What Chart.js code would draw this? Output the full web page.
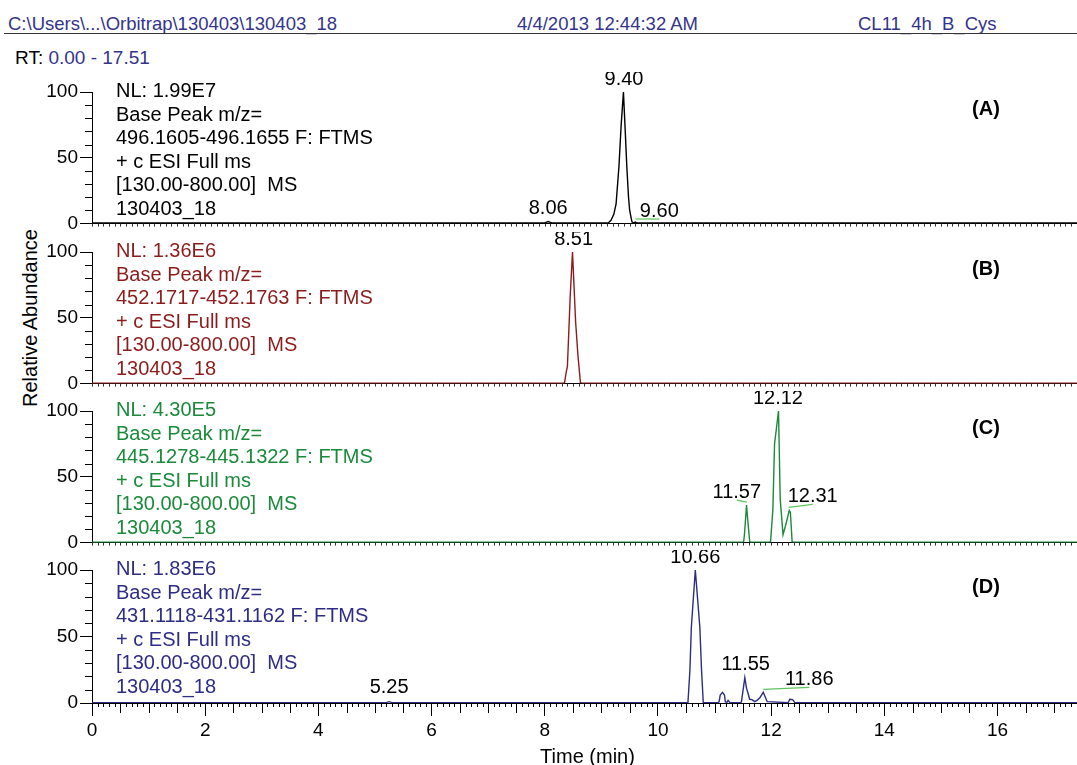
<!DOCTYPE html>
<html>
<head>
<meta charset="utf-8">
<title>Chromatograms</title>
<script src="https://cdn.jsdelivr.net/npm/chart.js@4.4.0/dist/chart.umd.min.js"></script>
<style>
  html, body { margin: 0; padding: 0; background: #fff; overflow: hidden; width: 1077px; height: 765px; }
  body { position: relative; font-family: "Liberation Sans", Arial, Helvetica, sans-serif; }
  .txt { position: absolute; white-space: nowrap; line-height: 1; }
  .hdr { font-size: 18.5px; color: #34348a; top: 15px; }
  .rule { position: absolute; left: 4px; top: 33px; width: 1073px; height: 1px; background: #333; }
  .info { position: absolute; left: 116px; font-size: 20px; line-height: 23.6px; white-space: pre; }
  .tag { position: absolute; width: 60px; left: 956px; text-align: center; font-size: 20px; font-weight: bold; line-height: 1; }
  canvas { position: absolute; left: 0; }
</style>
</head>
<body>
<div class="txt hdr" style="left:8px">C:\Users\...\Orbitrap\130403\130403_18</div>
<div class="txt hdr" style="left:517px">4/4/2013 12:44:32 AM</div>
<div class="txt hdr" style="left:858px">CL11_4h_B_Cys</div>
<div class="rule"></div>
<div class="txt" style="left:15px; top:48px; font-size:19px">RT: <span style="color:#34348a">0.00 - 17.51</span></div>
<div class="txt" style="left:30px; top:318px; font-size:20px; transform:translate(-50%,-50%) rotate(-90deg)">Relative Abundance</div>

<canvas id="cA" width="1100" height="165"></canvas>
<canvas id="cB" width="1100" height="165"></canvas>
<canvas id="cC" width="1100" height="165"></canvas>
<canvas id="cD" width="1100" height="220"></canvas>

<script>
// ---- data (time in min, relative abundance in %) ----
const timeA = [0, 2.0, 4.0, 6.0, 7.98, 8.02, 8.06, 8.10, 8.14, 9.12, 9.17, 9.22, 9.26, 9.31, 9.35, 9.39, 9.42, 9.45, 9.48, 9.50, 9.54, 9.57, 9.60, 9.63, 12.0, 17.51];
const abundA = [0.4, 0.4, 0.4, 0.4, 0.4, 0.9, 1.6, 0.9, 0.4, 0.4, 2.5, 7, 15, 43, 75, 100, 72, 43, 20, 10, 1.3, 0.6, 1.2, 0.4, 0.4, 0.4];

const timeB = [0, 4.0, 8.0, 8.33, 8.35, 8.38, 8.40, 8.45, 8.49, 8.545, 8.585, 8.63, 8.66, 12.0, 17.51];
const abundB = [0.3, 0.3, 0.3, 0.3, 0.8, 9, 13, 67, 100, 47, 22, 0.8, 0.3, 0.3, 0.3];

const timeC = [0, 4.0, 8.0, 11.50, 11.515, 11.53, 11.565, 11.59, 11.62, 11.64, 11.97, 11.99, 12.03, 12.06, 12.13, 12.16, 12.21, 12.27, 12.32, 12.34, 12.37, 12.39, 17.51];
const abundC = [0.3, 0.3, 0.3, 0.3, 1, 7, 28.5, 15.5, 1, 0.3, 0.3, 1, 25, 75, 100, 33, 6, 15.5, 24.5, 23, 1, 0.3, 0.3];

const timeD = [0, 3.0, 5.20, 5.25, 5.30, 8.0, 10.50, 10.53, 10.565, 10.59, 10.66, 10.74, 10.77, 10.80, 10.83,
  11.06, 11.08, 11.10, 11.14, 11.175, 11.19, 11.22, 11.24, 11.27, 11.46, 11.475, 11.50, 11.535, 11.565, 11.59,
  11.62, 11.66, 11.71, 11.75, 11.80, 11.83, 11.86, 11.89, 11.93, 12.30, 12.33, 12.38, 12.42, 17.51];
const abundD = [0.3, 0.3, 0.3, 1.0, 0.3, 0.3, 0.3, 0.5, 25, 57, 100, 57, 25, 0.5, 0.3,
  0.3, 0.8, 6, 8, 6, 0.8, 0.6, 2, 0.5, 0.3, 0.8, 8.5, 19, 11, 7.5,
  2.8, 2.5, 1, 2, 4, 6, 8, 5, 1, 0.3, 2.8, 2.5, 0.3, 0.3];

// labelled peaks: retention time and apex height
const peakTimeA = [8.06, 9.40, 9.60];
const peakAbundA = [1.6, 100, 1.2];
const peakTimeB = [8.51];
const peakAbundB = [100];
const peakTimeC = [11.57, 12.12, 12.31];
const peakAbundC = [28.5, 100, 24.5];
const peakTimeD = [5.25, 10.66, 11.55, 11.86];
const peakAbundD = [1.0, 100, 19, 8];

// trace header texts
const nlValues = ["1.99E7", "1.36E6", "4.30E5", "1.83E6"];
const mzRanges = ["496.1605-496.1655", "452.1717-452.1763", "445.1278-445.1322", "431.1118-431.1162"];
const panelTags = ["(A)", "(B)", "(C)", "(D)"];
const xTickStep = 2;
const yTickStep = 50;

// ---- layout / style ----
const FONT = '"Liberation Sans", Arial, Helvetica, sans-serif';
Chart.defaults.font.family = FONT;
const colors = ["#000000", "#8c1c1c", "#1b8a3b", "#2d2d86"];
const panelTops = [92, 252, 411, 570];
const PLOT_H = 133;
const PAD_TOP = 20;
// label offsets in px from the apex [dx, dy]
const shiftA = [[0, -13], [0, -13], [24, -11]];
const shiftB = [[0, -13]];
const shiftC = [[-10, -13], [0, -13], [24, -14]];
const shiftD = [[0, -14], [0, -13], [0, -13], [46, -13]];

const minorTicks = {
  id: "minorTicks",
  afterDraw(chart, args, opts) {
    const {ctx, chartArea, scales: {x, y}} = chart;
    ctx.save();
    ctx.strokeStyle = "#000";
    ctx.lineWidth = 1;
    ctx.beginPath();
    for (let v = 10; v < 100; v += 10) {
      if (v === 50) continue;
      const py = Math.round(y.getPixelForValue(v)) + 0.5;
      ctx.moveTo(chartArea.left - 7, py);
      ctx.lineTo(chartArea.left, py);
    }
    ctx.stroke();
    ctx.strokeStyle = opts.bottom ? "#000" : "#333";
    ctx.beginPath();
    for (let k = 0; k <= 175; k++) {
      if (opts.bottom && k % 20 === 0) continue;
      const len = opts.bottom ? (k % 5 === 0 ? 10 : 4) : 3;
      const px = Math.round(x.getPixelForValue(k / 10)) + 0.5;
      ctx.moveTo(px, chartArea.bottom);
      ctx.lineTo(px, chartArea.bottom + len);
    }
    ctx.stroke();
    ctx.restore();
  }
};

const peakLabels = {
  id: "peakLabels",
  afterDatasetsDraw(chart, args, opts) {
    const {ctx, scales: {x, y}} = chart;
    ctx.save();
    ctx.font = "20px " + FONT;
    ctx.textAlign = "center";
    ctx.textBaseline = "middle";
    opts.times.forEach((t, i) => {
      const px = x.getPixelForValue(t);
      const py = y.getPixelForValue(opts.values[i]);
      const [dx, dy] = opts.shifts[i];
      const tx = px + dx, ty = py + dy;
      if (dx !== 0) {
        ctx.strokeStyle = "#5ec45e";
        ctx.lineWidth = 1.2;
        ctx.beginPath();
        ctx.moveTo(px, py - 3);
        ctx.lineTo(tx, ty + 8);
        ctx.stroke();
      }
      ctx.fillStyle = "#000";
      ctx.fillText(t.toFixed(2), tx, ty);
    });
    ctx.restore();
  }
};

function makePanel(id, idx, times, abund, peakT, peakV, shifts) {
  const bottom = idx === 3;
  const canvas = document.getElementById(id);
  canvas.style.top = (panelTops[idx] - PAD_TOP) + "px";
  const xHeight = canvas.height - PAD_TOP - PLOT_H;

  // panel text block
  const info = document.createElement("div");
  info.className = "info";
  info.style.top = (panelTops[idx] - 13) + "px";
  info.style.color = colors[idx];
  info.textContent = "NL: " + nlValues[idx] + "\nBase Peak m/z=\n" + mzRanges[idx] +
    " F: FTMS\n+ c ESI Full ms\n[130.00-800.00]  MS\n130403_18";
  document.body.appendChild(info);
  const tag = document.createElement("div");
  tag.className = "tag";
  tag.style.top = (panelTops[idx] + 6) + "px";
  tag.textContent = panelTags[idx];
  document.body.appendChild(tag);

  return new Chart(canvas, {
    type: "line",
    data: {
      datasets: [{
        data: times.map((t, i) => ({x: t, y: abund[i]})),
        borderColor: colors[idx],
        borderWidth: 1.4,
        pointRadius: 0,
        tension: 0,
        fill: false,
      }],
    },
    options: {
      responsive: false,
      animation: false,
      events: [],
      layout: {padding: {top: PAD_TOP, right: 17, left: 0, bottom: 0}},
      plugins: {
        legend: {display: false},
        tooltip: {enabled: false},
        minorTicks: {bottom},
        peakLabels: {times: peakT, values: peakV, shifts},
      },
      scales: {
        x: {
          type: "linear",
          min: 0,
          max: 17.51,
          afterFit: (s) => { s.height = xHeight; },
          ticks: {
            display: bottom,
            stepSize: xTickStep,
            includeBounds: false,
            color: "#000",
            padding: 3,
            font: {size: 19},
            maxRotation: 0,
          },
          grid: {display: bottom, drawOnChartArea: false, tickLength: 13, color: "#000"},
          border: {display: true, color: "#000", width: 1},
          title: {
            display: bottom,
            text: "Time (min)",
            color: "#000",
            font: {size: 20},
            padding: {top: 0, bottom: 1},
          },
        },
        y: {
          min: 0,
          max: 100,
          afterFit: (s) => { s.width = 92; },
          ticks: {stepSize: yTickStep, color: "#000", padding: 2, font: {size: 19}},
          grid: {drawOnChartArea: false, tickLength: 12, color: "#000"},
          border: {display: true, color: "#000", width: 1},
        },
      },
    },
    plugins: [minorTicks, peakLabels],
  });
}

makePanel("cA", 0, timeA, abundA, peakTimeA, peakAbundA, shiftA);
makePanel("cB", 1, timeB, abundB, peakTimeB, peakAbundB, shiftB);
makePanel("cC", 2, timeC, abundC, peakTimeC, peakAbundC, shiftC);
makePanel("cD", 3, timeD, abundD, peakTimeD, peakAbundD, shiftD);
</script>
</body>
</html>
